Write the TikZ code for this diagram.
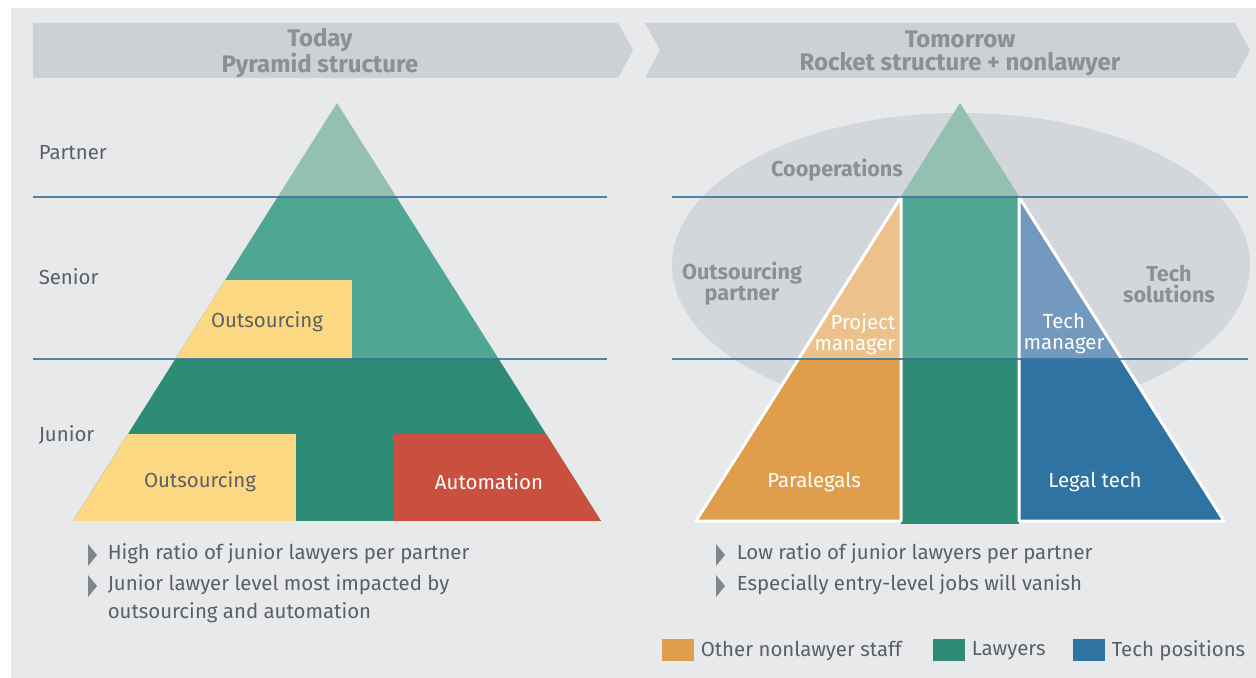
\documentclass[tikz,border=0pt]{standalone}
\usepackage{fontspec}
\setmainfont{Fira Sans}

\definecolor{panelgray}{HTML}{E8E9EB}
\definecolor{bannergray}{HTML}{CDD1D5}
\definecolor{ellgray}{HTML}{D3D6DA}
\definecolor{partnergreen}{HTML}{94C0B1}
\definecolor{seniorgreen}{HTML}{4FA693}
\definecolor{juniorgreen}{HTML}{2E8B75}
\definecolor{outyellow}{HTML}{FDD882}
\definecolor{autored}{HTML}{C9503F}
\definecolor{orangelight}{HTML}{ECC18C}
\definecolor{orangedark}{HTML}{E09D4B}
\definecolor{bluelight}{HTML}{7399BF}
\definecolor{bluedark}{HTML}{2E73A1}
\definecolor{levelline}{HTML}{3D7198}
\definecolor{textgray}{HTML}{5A6065}
\definecolor{headgray}{HTML}{8A9095}
\definecolor{bulgray}{HTML}{7F878C}

\tikzset{every picture/.style={line width=0.75pt}}

\begin{document}
\begin{tikzpicture}[x=0.5pt,y=0.5pt,yscale=-1,xscale=1,
  headtext/.style={inner sep=0pt,align=center,text=headgray,font=\fontsize{12}{11.5}\selectfont\bfseries},
  leveltext/.style={inner sep=0pt,anchor=west,text=textgray,font=\fontsize{10.2}{11}\selectfont},
  boxtext/.style={inner sep=0pt,align=center,text=textgray,font=\fontsize{10.2}{11}\selectfont},
  whitetext/.style={inner sep=0pt,align=center,text=white,font=\fontsize{10.2}{11}\selectfont},
  elltext/.style={inner sep=0pt,align=center,text=headgray,font=\fontsize{10.8}{10.5}\selectfont\bfseries},
  bullettext/.style={inner sep=0pt,anchor=west,align=left,text=textgray,font=\fontsize{10.2}{14}\selectfont},
  levelrule/.style={draw=levelline,line width=1pt,draw opacity=0.85}]
\useasboundingbox (0,0) rectangle (1256,678);

%Shape: Rectangle [id:panel]
\fill [white] (0,0) rectangle (1256,678);
\fill [panelgray] (11,8) rectangle (1256,678);

%Shape: Banner [id:today]
\fill [bannergray] (33,23) -- (618,23) -- (633,50) -- (618,78) -- (33,78) -- cycle ;
%Shape: Banner [id:tomorrow]
\fill [bannergray] (645,23) -- (1235,23) -- (1250,50) -- (1235,78) -- (645,78) -- (660,50) -- cycle ;

%Shape: Pyramid [id:pyramid]
\begin{scope}
\clip (337,103) -- (73,521) -- (601,521) -- cycle ;
\fill [partnergreen] (60,100) rectangle (620,197) ;
\fill [seniorgreen] (60,197) rectangle (620,359) ;
\fill [juniorgreen] (60,359) rectangle (620,521) ;
\fill [outyellow] (60,280) rectangle (352,359) ;
\fill [outyellow] (60,434) rectangle (296,521) ;
\fill [autored] (393,434) rectangle (620,521) ;
\end{scope}

%Shape: Ellipse [id:cooperation]
\fill [ellgray] (961,265) ellipse [x radius=289, y radius=152] ;

%Shape: Triangle [id:rockettip]
\fill [partnergreen] (960,103) -- (900.6,197) -- (1019.4,197) -- cycle ;
%Shape: Rectangle [id:lawyercolumn]
\fill [seniorgreen] (901,197) rectangle (1019,359) ;
\fill [juniorgreen] (901,359) rectangle (1019,524) ;

%Shape: Triangle [id:nonlawyer]
\begin{scope}
\clip (901,197) -- (901,521) -- (696,521) -- cycle ;
\fill [orangelight] (690,190) rectangle (901,359) ;
\fill [orangedark] (690,359) rectangle (901,521) ;
\end{scope}
\draw [white,line width=1.5pt,line join=round] (901,197) -- (901,521) -- (696,521) -- cycle ;

%Shape: Triangle [id:techpos]
\begin{scope}
\clip (1019,197) -- (1019,521) -- (1224,521) -- cycle ;
\fill [bluelight] (1019,190) rectangle (1230,359) ;
\fill [bluedark] (1019,359) rectangle (1230,521) ;
\end{scope}
\draw [white,line width=1.5pt,line join=round] (1019,197) -- (1019,521) -- (1224,521) -- cycle ;

%Straight Lines [id:levels]
\draw [levelrule] (33,197) -- (607,197) ;
\draw [levelrule] (33,359) -- (607,359) ;
\draw [levelrule] (672,197) -- (1248,197) ;
\draw [levelrule] (672,359) -- (1248,359) ;

%Shape: Bullets
\fill [bulgray] (88,544) -- (97,555) -- (88,566) -- cycle ;
\fill [bulgray] (88,575) -- (97,586) -- (88,597) -- cycle ;
\fill [bulgray] (716,544) -- (725,555) -- (716,566) -- cycle ;
\fill [bulgray] (716,575) -- (725,586) -- (716,597) -- cycle ;

%Shape: Legend keys
\fill [orangedark] (662,639) rectangle (694,661) ;
\fill [juniorgreen] (933,639) rectangle (965,661) ;
\fill [bluedark] (1073,639) rectangle (1105,661) ;

% Text Node
\draw (320,53) node [headtext] (today) {Today\\Pyramid structure};
% Text Node
\draw (960,53) node [headtext] (tomorrow) {Tomorrow\\Rocket structure + nonlawyer};
% Text Node
\draw (38,153) node [leveltext] (partner) {Partner};
% Text Node
\draw (38,277) node [leveltext] (senior) {Senior};
% Text Node
\draw (38,435) node [leveltext] (junior) {Junior};
% Text Node
\draw (267,322) node [boxtext] (outsenior) {Outsourcing};
% Text Node
\draw (200,482) node [boxtext] (outjunior) {Outsourcing};
% Text Node
\draw (489,482) node [whitetext] (automation) {Automation};
% Text Node
\draw (837,170) node [elltext] (cooperations) {Cooperations};
% Text Node
\draw (742,284) node [elltext] (outpartner) {Outsourcing\\partner};
% Text Node
\draw (1169,284) node [elltext] (techsol) {Tech\\solutions};
% Text Node
\draw (896,334) node [whitetext,anchor=east,align=right,font=\fontsize{10.2}{10.5}\selectfont] (projman) {Project\\manager};
% Text Node
\draw (1064,334) node [whitetext,font=\fontsize{10.2}{10.5}\selectfont] (techman) {Tech\\manager};
% Text Node
\draw (814,482) node [whitetext] (paralegals) {Paralegals};
% Text Node
\draw (1095,482) node [whitetext] (legaltech) {Legal tech};
% Text Node
\draw (107,554) node [bullettext] (highratio) {High ratio of junior lawyers per partner};
% Text Node
\draw (107,599) node [bullettext] (juniorlevel) {Junior lawyer level most impacted by\\outsourcing and automation};
% Text Node
\draw (736,554) node [bullettext] (lowratio) {Low ratio of junior lawyers per partner};
% Text Node
\draw (736,585) node [bullettext] (entrylevel) {Especially entry-level jobs will vanish};
% Text Node
\draw (700,651) node [leveltext] (nonlawyerkey) {Other nonlawyer staff};
% Text Node
\draw (971,651) node [leveltext] (lawyerkey) {Lawyers};
% Text Node
\draw (1111,651) node [leveltext] (techkey) {Tech positions};

\end{tikzpicture}
\end{document}
